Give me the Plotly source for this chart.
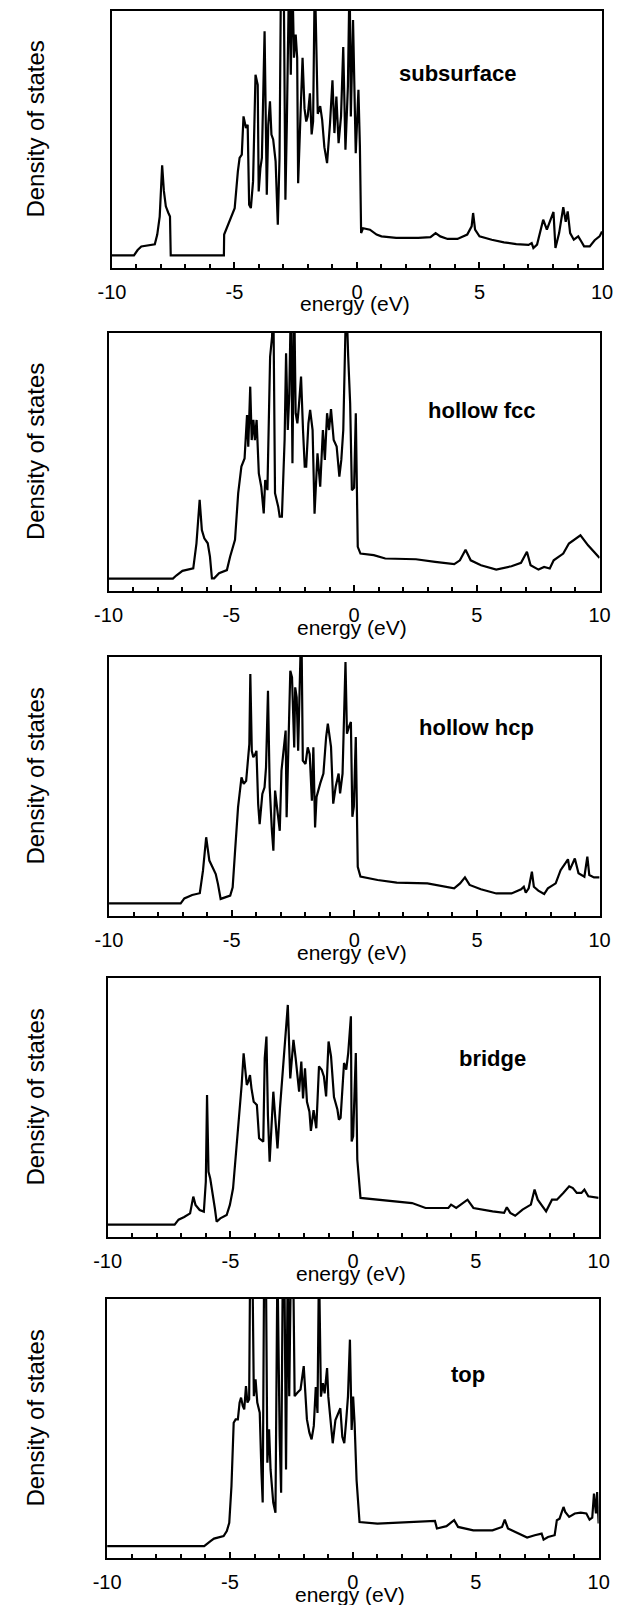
import plotly.graph_objects as go

# Density of states vs energy for five adsorption sites (energy in eV, DOS in arbitrary units).
# DOS is normalised so the frame spans 0..1; values above 1 run off the top of the frame.

subsurface = [
    (-10, 0.049), (-9.1, 0.049), (-8.95, 0.07), (-8.8, 0.084), (-8.25, 0.092), (-8.15, 0.13),
    (-8.05, 0.2), (-7.95, 0.40), (-7.88, 0.30), (-7.8, 0.24), (-7.7, 0.215), (-7.63, 0.2),
    (-7.6, 0.049), (-5.43, 0.049), (-5.42, 0.13), (-5.25, 0.168), (-4.99, 0.233), (-4.86, 0.376),
    (-4.79, 0.428), (-4.70, 0.441), (-4.63, 0.59), (-4.53, 0.545), (-4.46, 0.557), (-4.40, 0.246),
    (-4.33, 0.233), (-4.24, 0.337), (-4.14, 0.752), (-4.05, 0.713), (-4.01, 0.298), (-3.94, 0.389),
    (-3.88, 0.428), (-3.77, 0.921), (-3.68, 0.285), (-3.62, 0.557), (-3.55, 0.649), (-3.49, 0.519),
    (-3.42, 0.50), (-3.32, 0.415), (-3.23, 0.168), (-3.16, 0.428), (-3.10, 1.15), (-2.99, 1.15),
    (-2.92, 0.266), (-2.86, 0.57), (-2.77, 1.15), (-2.70, 0.752), (-2.64, 1.15), (-2.57, 0.818),
    (-2.50, 0.908), (-2.44, 0.818), (-2.40, 0.33), (-2.31, 0.58), (-2.22, 0.818), (-2.14, 0.62),
    (-2.07, 0.57), (-2.01, 0.59), (-1.92, 0.68), (-1.85, 0.52), (-1.79, 0.57), (-1.72, 1.15),
    (-1.6, 0.60), (-1.5, 0.63), (-1.42, 0.576), (-1.33, 0.47), (-1.22, 0.408), (-1.1, 0.563),
    (-1.0, 0.73), (-0.92, 0.525), (-0.84, 0.667), (-0.75, 0.486), (-0.65, 0.59), (-0.56, 0.86),
    (-0.47, 0.46), (-0.37, 0.706), (-0.3, 1.15), (-0.25, 0.59), (-0.16, 0.965), (-0.05, 0.447),
    (0.06, 0.693), (0.12, 0.473), (0.17, 0.136), (0.25, 0.155), (0.53, 0.149), (0.8, 0.13),
    (1.0, 0.123), (1.6, 0.117), (2.5, 0.117), (3.0, 0.12), (3.21, 0.136), (3.4, 0.123),
    (3.7, 0.113), (4.1, 0.113), (4.5, 0.13), (4.68, 0.162), (4.74, 0.214), (4.82, 0.149),
    (5.0, 0.123), (5.5, 0.11), (6.0, 0.10), (6.5, 0.093), (7.0, 0.09), (7.13, 0.097),
    (7.2, 0.078), (7.35, 0.091), (7.6, 0.188), (7.75, 0.149), (8.02, 0.218), (8.1, 0.078),
    (8.25, 0.136), (8.42, 0.237), (8.52, 0.18), (8.6, 0.22), (8.7, 0.136), (8.85, 0.11),
    (9.03, 0.123), (9.15, 0.104), (9.27, 0.084), (9.5, 0.084), (9.7, 0.108), (9.9, 0.123),
    (10, 0.142),
]

hollow_fcc = [
    (-10, 0.048), (-7.38, 0.048), (-7.23, 0.061), (-6.99, 0.078), (-6.55, 0.088), (-6.42, 0.185),
    (-6.29, 0.353), (-6.2, 0.236), (-6.1, 0.204), (-5.96, 0.185), (-5.87, 0.133), (-5.79, 0.049),
    (-5.7, 0.049), (-5.5, 0.069), (-5.18, 0.081), (-5.05, 0.133), (-4.85, 0.198), (-4.72, 0.379),
    (-4.59, 0.482), (-4.46, 0.514), (-4.36, 0.682), (-4.31, 0.559), (-4.23, 0.792), (-4.17, 0.585),
    (-4.1, 0.663), (-4.04, 0.585), (-3.97, 0.663), (-3.88, 0.456), (-3.78, 0.404), (-3.68, 0.301),
    (-3.62, 0.43), (-3.53, 0.391), (-3.42, 0.908), (-3.34, 0.986), (-3.29, 1.15), (-3.22, 0.379),
    (-3.09, 0.327), (-3.03, 0.288), (-2.94, 0.288), (-2.83, 0.585), (-2.77, 0.921), (-2.7, 0.624),
    (-2.64, 0.76), (-2.57, 1.15), (-2.51, 0.495), (-2.44, 1.15), (-2.38, 0.689), (-2.31, 0.65),
    (-2.25, 0.715), (-2.16, 0.831), (-2.08, 0.624), (-2.01, 0.482), (-1.95, 0.482), (-1.86, 0.65),
    (-1.79, 0.702), (-1.69, 0.624), (-1.61, 0.30), (-1.49, 0.534), (-1.38, 0.404), (-1.27, 0.624),
    (-1.19, 0.508), (-1.1, 0.689), (-1.02, 0.624), (-0.94, 0.705), (-0.83, 0.585), (-0.71, 0.56),
    (-0.6, 0.443), (-0.52, 0.508), (-0.44, 0.624), (-0.37, 0.922), (-0.32, 1.15), (-0.24, 0.909),
    (-0.16, 0.728), (-0.09, 0.391), (0.0, 0.40), (0.07, 0.689), (0.15, 0.171), (0.26, 0.145),
    (0.8, 0.139), (1.27, 0.126), (2.52, 0.123), (3.3, 0.113), (4.08, 0.104), (4.31, 0.119),
    (4.54, 0.16), (4.75, 0.119), (5.17, 0.1), (5.79, 0.083), (6.41, 0.096), (6.8, 0.109),
    (7.04, 0.152), (7.19, 0.1), (7.51, 0.083), (7.74, 0.093), (7.97, 0.087), (8.13, 0.119),
    (8.52, 0.145), (8.75, 0.184), (9.06, 0.203), (9.22, 0.216), (9.53, 0.177), (9.95, 0.132),
    (10, 0.128),
]

hollow_hcp = [
    (-10, 0.049), (-7.08, 0.049), (-6.93, 0.068), (-6.61, 0.081), (-6.30, 0.088), (-6.17, 0.175),
    (-6.04, 0.304), (-5.91, 0.214), (-5.78, 0.188), (-5.65, 0.162), (-5.56, 0.124), (-5.45, 0.066),
    (-5.06, 0.079), (-4.96, 0.111), (-4.87, 0.239), (-4.74, 0.42), (-4.60, 0.535), (-4.51, 0.51),
    (-4.41, 0.522), (-4.34, 0.587), (-4.28, 0.664), (-4.24, 0.934), (-4.18, 0.638), (-4.12, 0.613),
    (-4.04, 0.625), (-3.99, 0.638), (-3.92, 0.432), (-3.86, 0.355), (-3.75, 0.471), (-3.66, 0.497),
    (-3.6, 0.574), (-3.52, 0.87), (-3.45, 0.497), (-3.36, 0.329), (-3.30, 0.252), (-3.23, 0.484),
    (-3.17, 0.432), (-3.10, 0.368), (-3.04, 0.329), (-2.97, 0.561), (-2.87, 0.651), (-2.8, 0.716),
    (-2.76, 0.381), (-2.68, 0.741), (-2.61, 0.947), (-2.54, 0.921), (-2.45, 0.651), (-2.41, 0.883),
    (-2.35, 0.844), (-2.29, 0.638), (-2.23, 0.819), (-2.16, 1.15), (-2.10, 0.6), (-1.99, 0.587),
    (-1.9, 0.651), (-1.82, 0.625), (-1.73, 0.445), (-1.67, 0.651), (-1.6, 0.342), (-1.54, 0.46),
    (-1.39, 0.512), (-1.26, 0.55), (-1.15, 0.69), (-1.08, 0.743), (-0.95, 0.653), (-0.86, 0.434),
    (-0.76, 0.499), (-0.64, 0.55), (-0.58, 0.473), (-0.48, 0.55), (-0.36, 0.981), (-0.3, 0.704),
    (-0.22, 0.73), (-0.14, 0.749), (-0.08, 0.383), (-0.02, 0.422), (0.06, 0.691), (0.14, 0.19),
    (0.25, 0.152), (0.95, 0.139), (1.73, 0.129), (2.98, 0.126), (4.07, 0.107), (4.31, 0.126),
    (4.51, 0.149), (4.7, 0.12), (5.16, 0.103), (5.79, 0.087), (6.41, 0.087), (6.8, 0.103),
    (6.91, 0.113), (6.99, 0.09), (7.11, 0.107), (7.24, 0.171), (7.32, 0.113), (7.5, 0.098),
    (7.74, 0.085), (7.89, 0.107), (8.21, 0.126), (8.41, 0.177), (8.6, 0.203), (8.71, 0.219),
    (8.78, 0.177), (8.99, 0.222), (9.14, 0.165), (9.38, 0.152), (9.5, 0.229), (9.58, 0.158),
    (9.77, 0.149), (10, 0.149),
]

bridge = [
    (-10, 0.048), (-7.27, 0.048), (-7.11, 0.067), (-6.88, 0.077), (-6.64, 0.091), (-6.51, 0.156),
    (-6.42, 0.124), (-6.25, 0.104), (-6.08, 0.098), (-6.0, 0.213), (-5.95, 0.548), (-5.89, 0.252),
    (-5.82, 0.226), (-5.73, 0.175), (-5.63, 0.11), (-5.56, 0.059), (-5.41, 0.072), (-5.15, 0.085),
    (-5.02, 0.124), (-4.89, 0.188), (-4.76, 0.33), (-4.63, 0.497), (-4.54, 0.587), (-4.46, 0.709),
    (-4.4, 0.638), (-4.33, 0.587), (-4.27, 0.6), (-4.2, 0.625), (-4.14, 0.574), (-4.05, 0.522),
    (-3.92, 0.51), (-3.83, 0.381), (-3.66, 0.368), (-3.6, 0.69), (-3.53, 0.774), (-3.47, 0.471),
    (-3.4, 0.291), (-3.34, 0.407), (-3.25, 0.561), (-3.17, 0.458), (-3.08, 0.342), (-2.98, 0.497),
    (-2.85, 0.651), (-2.76, 0.767), (-2.66, 0.896), (-2.56, 0.612), (-2.43, 0.761), (-2.34, 0.69),
    (-2.28, 0.625), (-2.2, 0.561), (-2.11, 0.677), (-2.04, 0.535), (-1.96, 0.651), (-1.88, 0.522),
    (-1.78, 0.484), (-1.72, 0.41), (-1.61, 0.49), (-1.5, 0.42), (-1.39, 0.659), (-1.28, 0.646),
    (-1.19, 0.62), (-1.1, 0.543), (-1.0, 0.755), (-0.9, 0.698), (-0.78, 0.54), (-0.64, 0.492),
    (-0.58, 0.453), (-0.51, 0.46), (-0.37, 0.672), (-0.28, 0.646), (-0.2, 0.71), (-0.09, 0.852),
    (-0.06, 0.369), (0.0, 0.389), (0.11, 0.71), (0.17, 0.299), (0.3, 0.151), (1.0, 0.144),
    (2.4, 0.131), (2.95, 0.112), (3.88, 0.112), (3.99, 0.125), (4.2, 0.112), (4.66, 0.144),
    (4.9, 0.112), (5.68, 0.099), (6.15, 0.093), (6.26, 0.115), (6.4, 0.093), (6.6, 0.082),
    (6.9, 0.106), (7.24, 0.125), (7.39, 0.183), (7.52, 0.144), (7.86, 0.099), (8.1, 0.144),
    (8.3, 0.144), (8.56, 0.17), (8.8, 0.196), (8.95, 0.189), (9.11, 0.17), (9.3, 0.17),
    (9.42, 0.183), (9.58, 0.157), (10, 0.151),
]

top = [
    (-10, 0.046), (-6.05, 0.046), (-5.78, 0.066), (-5.65, 0.075), (-5.26, 0.085), (-5.13, 0.104),
    (-5.03, 0.136), (-4.94, 0.278), (-4.85, 0.522), (-4.77, 0.535), (-4.68, 0.535), (-4.61, 0.6),
    (-4.55, 0.619), (-4.48, 0.587), (-4.42, 0.574), (-4.35, 0.664), (-4.29, 0.6), (-4.22, 0.613),
    (-4.18, 1.15), (-4.09, 1.15), (-4.03, 0.625), (-3.96, 0.69), (-3.89, 0.6), (-3.79, 0.561),
    (-3.72, 0.329), (-3.67, 0.214), (-3.61, 1.15), (-3.54, 1.15), (-3.48, 0.368), (-3.41, 0.497),
    (-3.35, 0.342), (-3.24, 0.214), (-3.15, 0.175), (-3.07, 1.15), (-2.98, 0.471), (-2.92, 0.252),
    (-2.85, 1.15), (-2.79, 1.15), (-2.72, 0.342), (-2.65, 1.15), (-2.59, 0.625), (-2.52, 1.15),
    (-2.43, 1.15), (-2.37, 0.625), (-2.26, 0.638), (-2.13, 0.651), (-2.0, 0.741), (-1.94, 0.638),
    (-1.87, 0.535), (-1.77, 0.484), (-1.68, 0.458), (-1.59, 0.51), (-1.51, 0.66), (-1.44, 0.56),
    (-1.38, 1.15), (-1.3, 0.623), (-1.22, 0.675), (-1.15, 0.636), (-1.05, 0.733), (-1.0, 0.623),
    (-0.9, 0.507), (-0.82, 0.443), (-0.71, 0.533), (-0.6, 0.559), (-0.51, 0.578), (-0.43, 0.468),
    (-0.35, 0.443), (-0.27, 0.533), (-0.2, 0.623), (-0.12, 0.843), (-0.05, 0.494), (0.01, 0.623),
    (0.07, 0.52), (0.15, 0.301), (0.27, 0.139), (1.0, 0.133), (1.79, 0.136), (3.03, 0.143),
    (3.34, 0.143), (3.42, 0.114), (3.81, 0.123), (4.12, 0.146), (4.28, 0.12), (4.9, 0.107),
    (5.68, 0.107), (6.07, 0.12), (6.18, 0.148), (6.31, 0.114), (6.77, 0.092), (7.09, 0.079),
    (7.4, 0.088), (7.68, 0.094), (7.76, 0.071), (7.94, 0.081), (8.21, 0.088), (8.3, 0.146),
    (8.41, 0.152), (8.57, 0.197), (8.64, 0.178), (8.8, 0.159), (9.03, 0.172), (9.27, 0.175),
    (9.5, 0.172), (9.63, 0.148), (9.74, 0.156), (9.81, 0.249), (9.89, 0.172), (9.94, 0.255),
    (10.0, 0.133),
]

site_names = ["subsurface", "hollow fcc", "hollow hcp", "bridge", "top"]
site_curves = [subsurface, hollow_fcc, hollow_hcp, bridge, top]
site_label_pos = [(4.1, 0.755), (5.2, 0.70), (5.0, 0.726), (5.67, 0.69), (4.68, 0.707)]

x_tick_vals = [-10, -5, 0, 5, 10]
x_tick_text = ["-10", "-5", "0", "5", "10"]

W, H = 625, 1605
# frame boxes in pixels: left, right, top, bottom
boxes = [
    (102, 612.5, 11, 268),
    (98.5, 610, 333, 591),
    (99, 610, 657, 916),
    (97.5, 609, 978, 1237),
    (97, 609, 1299, 1558),
]

FONT = "Liberation Sans, Arial, Helvetica, sans-serif"

fig = go.Figure()
layout = dict(
    width=W, height=H, margin=dict(l=0, r=0, t=0, b=0),
    paper_bgcolor="white", plot_bgcolor="white", showlegend=False,
    font=dict(family=FONT, color="black"),
)
annotations = []

for i, (name, curve, box, lab) in enumerate(zip(site_names, site_curves, boxes, site_label_pos)):
    n = "" if i == 0 else str(i + 1)
    L, R, T, B = box
    energy = [p[0] for p in curve]
    dos = [p[1] for p in curve]
    fig.add_trace(go.Scatter(
        x=energy, y=dos, mode="lines", xaxis="x" + n, yaxis="y" + n,
        line=dict(color="black", width=2.2), hoverinfo="skip",
    ))
    layout["xaxis" + n] = dict(
        domain=[L / W, R / W], anchor="y" + n, range=[-10, 10],
        showline=True, linecolor="black", linewidth=2, mirror=True,
        showgrid=False, zeroline=False,
        tickmode="array", tickvals=x_tick_vals, ticktext=x_tick_text,
        ticks="inside", ticklen=6, tickwidth=1.5, tickcolor="black",
        ticklabelstandoff=5,
        tickfont=dict(family=FONT, size=20, color="black"),
        minor=dict(tickmode="array", tickvals=list(range(-10, 11)),
                   ticks="inside", ticklen=4, tickwidth=1.5, tickcolor="black"),
    )
    layout["yaxis" + n] = dict(
        domain=[1 - B / H, 1 - T / H], anchor="x" + n, range=[0, 1],
        showline=True, linecolor="black", linewidth=2, mirror=True,
        showgrid=False, zeroline=False, showticklabels=False, ticks="",
    )
    annotations.append(dict(
        text="<b>%s</b>" % name, x=lab[0], y=lab[1], xref="x" + n, yref="y%s domain" % n,
        showarrow=False, font=dict(family=FONT, size=22, color="black"),
        xanchor="center", yanchor="middle",
    ))
    annotations.append(dict(
        text="energy (eV)", x=-0.1, y=1 - (B + 36) / H, xref="x" + n, yref="paper",
        showarrow=False, font=dict(family=FONT, size=21, color="black"),
        xanchor="center", yanchor="middle",
    ))
    annotations.append(dict(
        text="Density of states", x=22 / W, y=1 - ((T + B) / 2 - 10) / H,
        xref="paper", yref="paper", textangle=-90, showarrow=False,
        font=dict(family=FONT, size=24, color="black"),
        xanchor="center", yanchor="middle",
    ))

layout["annotations"] = annotations
fig.update_layout(**layout)
fig.write_html("out.html")
